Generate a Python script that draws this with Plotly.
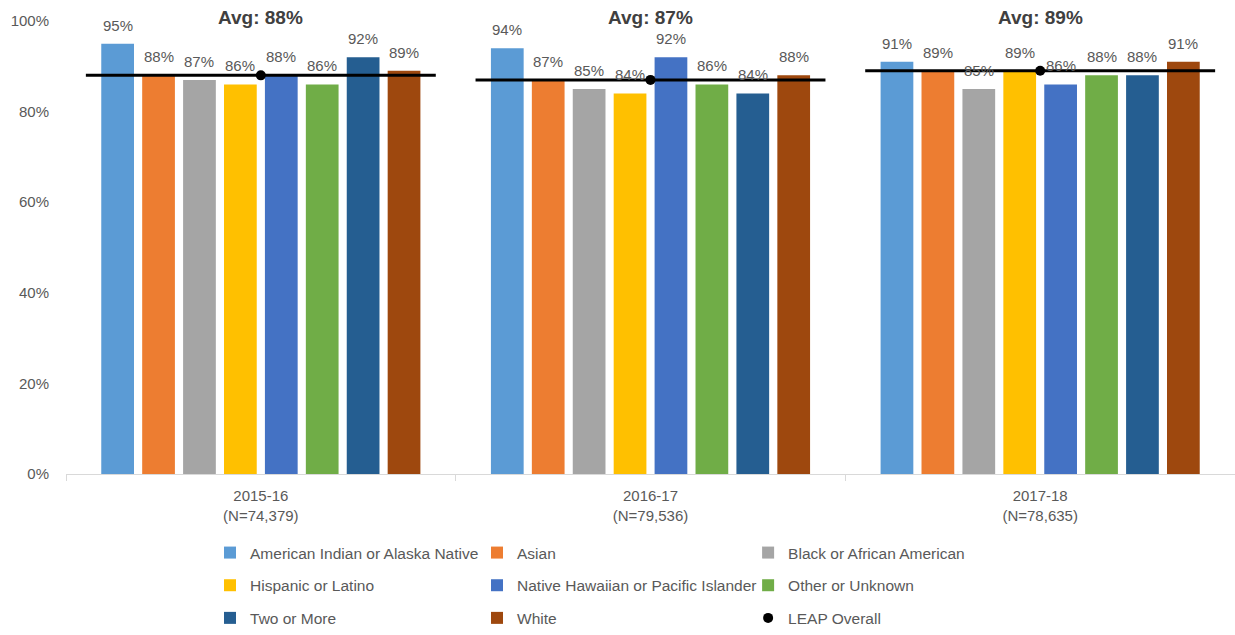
import plotly.graph_objects as go

# School years with student counts shown under each group
years = ["2015-16<br>(N=74,379)", "2016-17<br>(N=79,536)", "2017-18<br>(N=78,635)"]

groups = [
    "American Indian or Alaska Native",
    "Asian",
    "Black or African American",
    "Hispanic or Latino",
    "Native Hawaiian or Pacific Islander",
    "Other or Unknown",
    "Two or More",
    "White",
]

# Percent of students per group, one list per school year
rate_2015_16 = [95, 88, 87, 86, 88, 86, 92, 89]
rate_2016_17 = [94, 87, 85, 84, 92, 86, 84, 88]
rate_2017_18 = [91, 89, 85, 89, 86, 88, 88, 91]

# Overall rate for each year
overall = [88, 87, 89]

# Y axis ticks
y_ticks = [0, 20, 40, 60, 80, 100]

colors = ["#5B9BD5", "#ED7D31", "#A5A5A5", "#FFC000",
          "#4472C4", "#70AD47", "#255E91", "#9E480E"]

# Legend column each series is listed in
legend_col = ["legend", "legend2", "legend3",
              "legend", "legend2", "legend3",
              "legend", "legend2"]

FONT = "Liberation Sans"
GREY = "#595959"
BARGAP = 0.16
BARGROUPGAP = 0.2

by_year = [rate_2015_16, rate_2016_17, rate_2017_18]
pos = list(range(len(years)))

fig = go.Figure()
for gi, (name, col) in enumerate(zip(groups, colors)):
    vals = [yr[gi] for yr in by_year]
    fig.add_trace(go.Bar(
        x=pos, y=vals, name=name, marker_color=col,
        marker_line_width=0, legend=legend_col[gi], legendgroup=name,
    ))

# Value labels sit a little above each bar (same slot layout as grouped bars)
slot = (1 - BARGAP) / len(groups)
for gi in range(len(groups)):
    for i, yr in zip(pos, by_year):
        v = yr[gi]
        fig.add_annotation(
            x=i - (1 - BARGAP) / 2 + slot * (gi + 0.5), xref="x",
            y=v, yref="y", yanchor="bottom", yshift=8,
            text=f"{v:.0f}%", showarrow=False,
            font=dict(size=15, color=GREY, family=FONT),
        )

# Overall rate: a horizontal line across each year's group, dot in the middle
half = 0.449
lx, ly = [], []
for i, v in zip(pos, overall):
    lx += [i - half, i + half, None]
    ly += [v, v, None]
fig.add_trace(go.Scatter(
    x=lx, y=ly, mode="lines",
    line=dict(color="black", width=3), showlegend=False, hoverinfo="skip",
))
fig.add_trace(go.Scatter(
    x=pos, y=overall, mode="markers",
    marker=dict(color="black", size=10), name="LEAP Overall",
    legend="legend3", legendgroup="LEAP Overall", cliponaxis=False,
))

for i, v in zip(pos, overall):
    fig.add_annotation(
        x=i, xref="x", y=1.008, yref="paper", yanchor="middle",
        text=f"<b>Avg: {v}%</b>", showarrow=False,
        font=dict(size=19, color="#404040", family=FONT),
    )

legend_common = dict(
    orientation="v", xref="paper", yref="paper",
    yanchor="top", xanchor="left", y=-0.1369,
    font=dict(size=15.5, color=GREY, family=FONT),
    tracegroupgap=9.5, itemwidth=30, bgcolor="rgba(0,0,0,0)",
)

boundaries = [p - 0.5 for p in pos] + [pos[-1] + 0.5]

fig.update_layout(
    width=1235, height=635,
    margin=dict(l=66, r=0, t=21, b=161),
    plot_bgcolor="white", paper_bgcolor="white",
    barmode="group", bargap=BARGAP, bargroupgap=BARGROUPGAP,
    font=dict(family=FONT, color=GREY),
    xaxis=dict(
        range=[boundaries[0], boundaries[-1]], automargin=False,
        tickvals=pos, ticktext=years, ticks="", ticklabelstandoff=8,
        showline=True, linecolor="#D9D9D9", linewidth=1,
        minor=dict(tickvals=boundaries, ticks="outside", ticklen=6,
                   tickcolor="#D9D9D9", showgrid=False),
        tickfont=dict(size=15, color=GREY, family=FONT), showgrid=False,
        zeroline=False,
    ),
    yaxis=dict(
        range=[y_ticks[0], y_ticks[-1]], tickvals=y_ticks,
        ticktext=[f"{t}%" for t in y_ticks],
        showgrid=False, zeroline=False, showline=False, automargin=False,
        ticks="outside", ticklen=13, tickcolor="rgba(0,0,0,0)",
        tickfont=dict(size=15, color=GREY, family=FONT),
    ),
    legend=dict(legend_common, x=0.1232),
    legend2=dict(legend_common, x=0.3516),
    legend3=dict(legend_common, x=0.5835),
)

fig.write_html("out.html")
